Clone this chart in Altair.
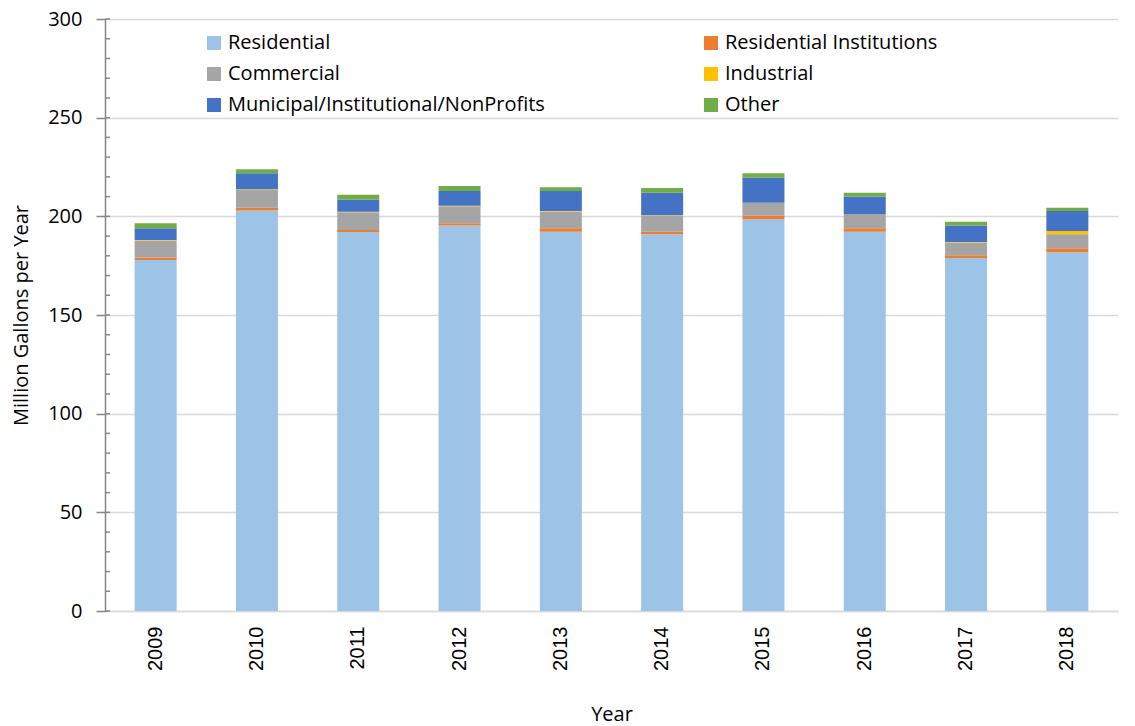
import altair as alt
import pandas as pd

years = ["2009", "2010", "2011", "2012", "2013", "2014", "2015", "2016", "2017", "2018"]
categories = ["Residential", "Residential Institutions", "Commercial", "Industrial",
              "Municipal/Institutional/NonProfits", "Other"]
colors = ["#9DC3E6", "#ED7D31", "#A5A5A5", "#FFC000", "#4472C4", "#70AD47"]
# legend is filled column by column: two columns of three
legend_order = ["Residential", "Commercial", "Municipal/Institutional/NonProfits",
                "Residential Institutions", "Industrial", "Other"]

residential = [177.9, 202.9, 192.1, 195.3, 192.2, 190.9, 198.5, 192.2, 178.9, 181.8]
res_inst = [1.2, 1.5, 1.0, 1.2, 1.8, 1.3, 1.8, 1.8, 1.4, 2.0]
commercial = [8.6, 9.3, 9.0, 8.6, 8.5, 8.3, 6.4, 6.7, 6.5, 7.1]
industrial = [0.3, 0.2, 0.2, 0.2, 0.2, 0.2, 0.2, 0.2, 0.2, 1.7]
municipal = [6.0, 7.9, 6.1, 7.6, 10.2, 11.3, 12.6, 9.1, 8.3, 10.1]
other = [2.5, 2.1, 2.5, 2.5, 1.8, 2.4, 2.3, 1.9, 2.0, 1.6]

major_ticks = [0, 50, 100, 150, 200, 250, 300]
minor_ticks = list(range(0, 301, 10))

series = [residential, res_inst, commercial, industrial, municipal, other]
rows = []
for ci, (cat, vals) in enumerate(zip(categories, series)):
    for y, v in zip(years, vals):
        rows.append({"Year": y, "Category": cat, "Value": v, "order": ci})
df = pd.DataFrame(rows)
minor_df = pd.DataFrame({"t": minor_ticks})

color_map = dict(zip(categories, colors))
legend_colors = [color_map[c] for c in legend_order]

FONT = "Open Sans"

yscale = alt.Scale(domain=[0, 300], nice=False)

bars = alt.Chart(df).mark_bar(size=42).encode(
    x=alt.X("Year:N", sort=years,
            scale=alt.Scale(paddingInner=0.585, paddingOuter=0.2925),
            axis=alt.Axis(title="Year", labelAngle=-90, labelFont="Liberation Sans",
                          labelFontSize=20, labelColor="#000000", labelPadding=15,
                          labelBaseline="middle", labelAlign="right",
                          ticks=False, domainColor="#D9D9D9", domainWidth=1.5,
                          titleFont=FONT, titleFontSize=20, titleFontWeight="normal",
                          titleColor="#000000", titlePadding=34)),
    y=alt.Y("Value:Q", stack="zero", scale=yscale,
            axis=alt.Axis(title="Million Gallons per Year", values=major_ticks,
                          labelFont=FONT, labelFontSize=20, labelColor="#000000",
                          labelPadding=14, tickSize=9, tickColor="#868686",
                          tickWidth=1.5, domainColor="#868686", domainWidth=1.5,
                          gridColor="#D9D9D9", gridWidth=1.5,
                          titleFont=FONT, titleFontSize=20, titleFontWeight="normal",
                          titleColor="#000000", titlePadding=16)),
    color=alt.Color("Category:N", sort=legend_order,
                    scale=alt.Scale(domain=legend_order, range=legend_colors),
                    legend=alt.Legend(title=None, orient="none", legendX=99, legendY=14,
                                      columns=2, columnPadding=156, rowPadding=11,
                                      symbolType="square", symbolSize=196,
                                      symbolStrokeWidth=0, labelOffset=4,
                                      labelFont=FONT, labelFontSize=20,
                                      labelColor="#000000", padding=0,
                                      labelLimit=500)),
    order=alt.Order("order:Q", sort="ascending"),
)

minor = alt.Chart(minor_df).mark_rule(color="#868686", strokeWidth=1.5).encode(
    y=alt.Y("t:Q", scale=yscale),
    x=alt.value(0),
    x2=alt.value(5),
)

chart = alt.layer(bars, minor).properties(
    width=1013, height=592,
    autosize=alt.AutoSizeParams(type="none"),
    padding={"left": 105, "top": 19, "right": 17, "bottom": 115},
    background="#FFFFFF",
).configure_view(stroke=None)

chart.save("out.html", embed_options={"renderer": "svg", "actions": False})
